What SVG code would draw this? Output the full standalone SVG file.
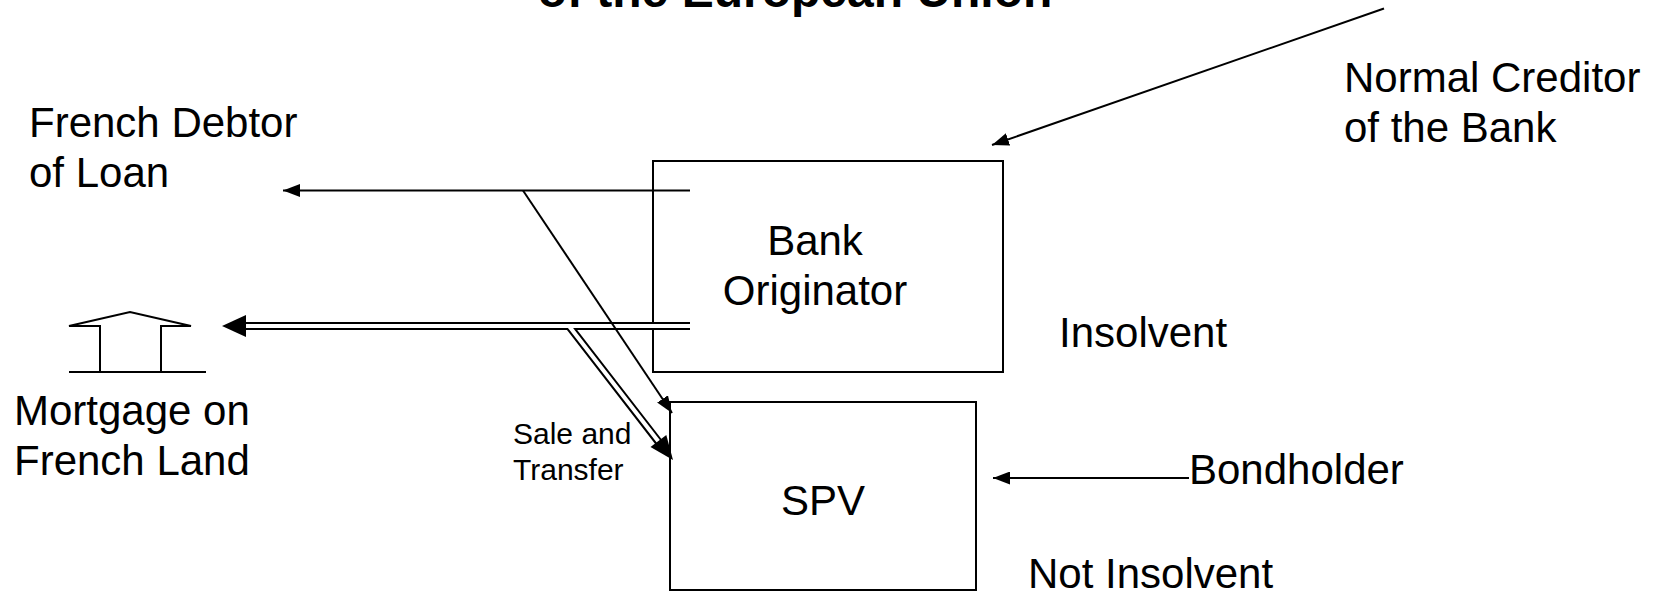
<svg xmlns="http://www.w3.org/2000/svg" width="1657" height="593" viewBox="0 0 1657 593">
  <style>
    .lbl { font-family: "Liberation Sans", Arial, sans-serif; font-size: 42px; fill: #000; }
    .small { font-family: "Liberation Sans", Arial, sans-serif; font-size: 30px; fill: #000; }
    .title { font-family: "Liberation Sans", Arial, sans-serif; font-size: 48px; font-weight: bold; fill: #000; }
    .box { fill: #fff; stroke: #000; stroke-width: 2; }
    .thin { fill: none; stroke: #000; stroke-width: 2; }
    .dblOuter { fill: none; stroke: #000; stroke-width: 8; }
    .dblInner { fill: none; stroke: #fff; stroke-width: 4; }
    .head { fill: #000; stroke: none; }
  </style>
  <defs>
    <marker id="arr" markerUnits="userSpaceOnUse" markerWidth="18" markerHeight="13" refX="17" refY="6.5" orient="auto">
      <path d="M0,0 L17,6.5 L0,13 Z" fill="#000"/>
    </marker>
  </defs>

  <rect width="1657" height="593" fill="#fff"/>

  <!-- heading, top line runs off the canvas -->
  <text class="title" x="795" y="7" text-anchor="middle">of the European Union</text>

  <!-- nodes -->
  <g id="bank">
    <rect class="box" x="653" y="161" width="350" height="211"/>
    <text class="lbl" x="815" y="255" text-anchor="middle">Bank</text>
    <text class="lbl" x="815" y="305" text-anchor="middle">Originator</text>
  </g>
  <g id="insolvent">
    <text class="lbl" x="1059" y="347">Insolvent</text>
  </g>
  <g id="spv">
    <rect class="box" x="670" y="402" width="306" height="188"/>
    <text class="lbl" x="823" y="515" text-anchor="middle">SPV</text>
  </g>
  <g id="not-insolvent">
    <text class="lbl" x="1028" y="588">Not Insolvent</text>
  </g>
  <g id="debtor">
    <text class="lbl" x="29" y="137">French Debtor</text>
    <text class="lbl" x="29" y="187">of Loan</text>
  </g>
  <g id="creditor">
    <text class="lbl" x="1344" y="92">Normal Creditor</text>
    <text class="lbl" x="1344" y="142">of the Bank</text>
  </g>
  <g id="bondholder">
    <text class="lbl" x="1189" y="484">Bondholder</text>
  </g>
  <g id="mortgage">
    <polyline class="thin" points="100,372 100,326 69,326 130,312 191,326 161,326 161,372"/>
    <line class="thin" x1="69" y1="372" x2="206" y2="372"/>
    <text class="lbl" x="14" y="425">Mortgage on</text>
    <text class="lbl" x="14" y="475">French Land</text>
  </g>
  <g id="sale-label">
    <text class="small" x="513" y="444">Sale and</text>
    <text class="small" x="513" y="480">Transfer</text>
  </g>

  <!-- connectors -->
  <g id="connectors">
    <!-- double lines: mortgage transfer -->
    <path class="dblOuter" d="M690,326 H244 M569,326 L661,445"/>
    <path class="dblInner" d="M690,326 H246 M569,326 L660,443.5"/>
    <polygon class="head" points="222,326 246,315 246,337"/>
    <polygon class="head" points="673,460 650.5,447.1 666.3,434.9"/>
    <!-- single lines -->
    <path class="thin" d="M690,190.5 H283" marker-end="url(#arr)"/>
    <path class="thin" d="M523,190.5 L672,413" marker-end="url(#arr)"/>
    <path class="thin" d="M1384,8.5 L992,145" marker-end="url(#arr)"/>
    <path class="thin" d="M1189,478 H993" marker-end="url(#arr)"/>
  </g>
</svg>
